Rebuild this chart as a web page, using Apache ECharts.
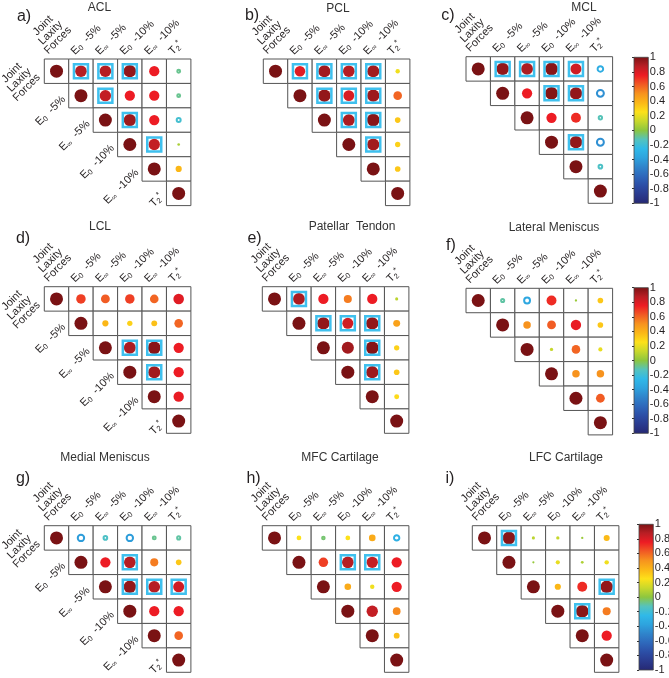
<!DOCTYPE html>
<html><head><meta charset="utf-8">
<script src="https://cdn.jsdelivr.net/npm/echarts@6/dist/echarts.min.js"></script>
<style>html,body{margin:0;padding:0;background:#fff}#chart{width:669px;height:678px}</style>
</head><body><div id="chart"></div>
<script>
// ---------- data ----------
const varLabels = ['Joint\nLaxity\nForces', '{t|E}{s|0}  -5%', '{t|E}{s|∞}  -5%', '{t|E}{s|0}  -10%', '{t|E}{s|∞}  -10%', '{t|T}{s|2}{p|*}'];
const categories = ['0', '1', '2', '3', '4', '5'];
const panelTitles = ['ACL', 'PCL', 'MCL', 'LCL', 'Patellar  Tendon', 'Lateral Meniscus', 'Medial Meniscus', 'MFC Cartilage', 'LFC Cartilage'];
const panelLetters = ['a)', 'b)', 'c)', 'd)', 'e)', 'f)', 'g)', 'h)', 'i)'];

// upper-triangle rows, each row starts at the diagonal
const aclCorr = [[1, 0.88, 0.88, 0.95, 0.75, -0.08], [1, 0.85, 0.75, 0.75, -0.08], [1, 0.93, 0.75, -0.18], [1, 0.85, 0.06], [1, 0.38], [1]];
const aclSig = [[0, 1], [0, 2], [0, 3], [1, 2], [2, 3], [3, 4]];
const pclCorr = [[1, 0.78, 0.92, 0.88, 0.92, 0.22], [1, 0.95, 0.8, 0.93, 0.6], [1, 0.9, 0.97, 0.33], [1, 0.92, 0.3], [1, 0.33], [1]];
const pclSig = [[0, 1], [0, 2], [0, 3], [0, 4], [1, 2], [1, 3], [1, 4], [2, 3], [2, 4], [3, 4]];
const mclCorr = [[1, 0.95, 0.9, 0.97, 0.82, -0.32], [1, 0.75, 0.98, 0.95, -0.45], [1, 0.75, 0.72, -0.12], [1, 0.95, -0.45], [1, -0.15], [1]];
const mclSig = [[0, 1], [0, 2], [0, 3], [0, 4], [1, 3], [1, 4], [3, 4]];
const lclCorr = [[1, 0.68, 0.62, 0.68, 0.6, 0.78], [1, 0.38, 0.3, 0.35, 0.6], [1, 0.9, 0.97, 0.75], [1, 0.92, 0.75], [1, 0.76], [1]];
const lclSig = [[2, 3], [2, 4], [3, 4]];
const ptCorr = [[1, 0.9, 0.75, 0.55, 0.75, 0.1], [1, 0.95, 0.82, 0.95, 0.45], [1, 0.92, 0.98, 0.3], [1, 0.93, 0.33], [1, 0.27], [1]];
const ptSig = [[0, 1], [1, 2], [1, 3], [1, 4], [2, 4], [3, 4]];
const lmCorr = [[1, -0.1, -0.35, 0.72, 0.03, 0.33], [1, 0.5, 0.62, 0.76, 0.33], [1, 0.12, 0.6, 0.2], [1, 0.5, 0.5], [1, 0.62], [1]];
const lmSig = [];
const mmCorr = [[1, -0.4, -0.15, -0.4, -0.08, -0.1], [1, 0.75, 0.88, 0.55, 0.33], [1, 0.95, 0.88, 0.82], [1, 0.75, 0.75], [1, 0.6], [1]];
const mmSig = [[1, 3], [2, 3], [2, 4], [2, 5]];
const mfcCorr = [[1, 0.25, -0.05, 0.25, 0.42, -0.3], [1, 0.68, 0.88, 0.85, 0.75], [1, 0.42, 0.22, 0.75], [1, 0.85, 0.52], [1, 0.35], [1]];
const mfcSig = [[1, 3], [1, 4]];
const lfcCorr = [[1, 0.97, 0.1, 0.12, 0.03, 0.37], [1, 0.02, 0.2, 0.07, 0.22], [1, 0.38, 0.72, 0.95], [1, 0.97, 0.55], [1, 0.75], [1]];
const lfcSig = [[0, 1], [2, 5], [3, 4]];

const corrs = [aclCorr, pclCorr, mclCorr, lclCorr, ptCorr, lmCorr, mmCorr, mfcCorr, lfcCorr];
const sigs = [aclSig, pclSig, mclSig, lclSig, ptSig, lmSig, mmSig, mfcSig, lfcSig];

// ---------- style / layout ----------
const FONT = '"Liberation Sans", Arial, Helvetica, sans-serif';
const TXT = '#231f20';
const SIDE = 146.6;
const layout = [
  {left: 44.3, top: 59}, {left: 263.3, top: 59}, {left: 466, top: 56.7},
  {left: 44.3, top: 286.7}, {left: 262.3, top: 286.7}, {left: 466, top: 288.3},
  {left: 44.3, top: 525.7}, {left: 262.3, top: 525.7}, {left: 472.3, top: 525.7}
];
const rowLabelPanels = [0, 3, 6];
const titlePos = [[99.5, 7.5], [338, 8.5], [584, 7.5], [100, 227], [352, 227], [554, 228], [105, 458], [340, 458], [566, 458]];
const letterPos = [[24, 16.5], [252, 15.5], [448, 16], [23, 239], [254.5, 239], [451, 246], [23, 478.5], [253.5, 479], [450, 478.5]];
const colorbars = [{left: 634, top: 57.3, height: 146, panels: [0, 1, 2]}, {left: 634, top: 287.7, height: 145.6, panels: [3, 4, 5]}, {left: 639, top: 524.3, height: 145.7, panels: [6, 7, 8]}];
const CBW = 14.3;
const jet = ['#262873', '#2a3a8e', '#2c4ea6', '#2e68bb', '#2f84cb', '#2ea3de', '#30b9e8', '#55c3bd', '#8dc63f', '#c8d82c', '#fde11a', '#fbb817', '#f7931e', '#f15a24', '#ed1c24', '#b81e24', '#7a1214'];

const rich = {
  t: {fontSize: 11, fontFamily: FONT, fill: TXT, lineHeight: 13},
  s: {fontSize: 7.5, fontFamily: FONT, fill: TXT, lineHeight: 6, verticalAlign: 'bottom'},
  p: {fontSize: 8, fontFamily: FONT, fill: TXT, lineHeight: 9, verticalAlign: 'top'}
};
const baseText = {fontSize: 11, fontFamily: FONT, fill: TXT, rich: rich};

const grid = [], xAxis = [], yAxis = [], series = [], graphic = [];
const circleSeriesOfPanel = [];

layout.forEach((L, k) => {
  grid.push({left: L.left, top: L.top, width: SIDE, height: SIDE, outerBoundsMode: 'none'});
  xAxis.push({gridIndex: k, type: 'category', data: categories, show: false});
  yAxis.push({gridIndex: k, type: 'category', data: categories, inverse: true, show: false});
  const M = corrs[k];
  const cells = [], circles = [];
  for (let i = 0; i < 6; i++) {
    for (let j = i; j < 6; j++) {
      cells.push([j, i]);
      const v = M[i][j - i];
      circles.push(v < 0 ? {value: [j, i, v], symbol: 'emptyCircle', itemStyle: {borderWidth: 2}} : {value: [j, i, v], symbol: 'circle'});
    }
  }
  // cell boxes
  series.push({
    type: 'custom', xAxisIndex: k, yAxisIndex: k, silent: true, z: 1, data: cells,
    renderItem: function (params, api) {
      const p = api.coord([api.value(0), api.value(1)]);
      const s = api.size([1, 1]);
      return {type: 'rect', shape: {x: p[0] - s[0] / 2, y: p[1] - s[1] / 2, width: s[0], height: s[1]},
        style: {fill: '#fff', stroke: '#555', lineWidth: 1}};
    }
  });
  // correlation circles
  circleSeriesOfPanel[k] = series.length;
  series.push({
    type: 'scatter', xAxisIndex: k, yAxisIndex: k, silent: true, z: 3, data: circles,
    itemStyle: {opacity: 1},
    symbolSize: function (val) { return 2 + 11 * Math.abs(val[2]); }
  });
  // significance squares
  series.push({
    type: 'scatter', xAxisIndex: k, yAxisIndex: k, silent: true, z: 4,
    data: sigs[k].map(rc => [rc[1], rc[0]]), symbol: 'rect', symbolSize: 14,
    itemStyle: {color: 'rgba(0,0,0,0)', borderColor: '#3fc0ee', borderWidth: 2.5, opacity: 1}
  });
  // column labels
  series.push({
    type: 'custom', xAxisIndex: k, yAxisIndex: k, silent: true, z: 5, data: [0, 1, 2, 3, 4, 5].map(j => [j, 0]),
    renderItem: function (params, api) {
      const j = api.value(0);
      const p = api.coord([j, 0]);
      const s = api.size([1, 1]);
      const top = p[1] - s[1] / 2;
      if (j === 0) {
        return {type: 'text', x: p[0] - 6, y: top - 26, rotation: Math.PI / 4,
          style: Object.assign({}, baseText, {text: varLabels[0], align: 'center', verticalAlign: 'middle', lineHeight: 10.5})};
      }
      return {type: 'text', x: p[0] - 8, y: top - 6, rotation: Math.PI / 4,
        style: Object.assign({}, baseText, {text: varLabels[j], align: 'left', verticalAlign: 'middle'})};
    }
  });
  if (rowLabelPanels.indexOf(k) >= 0) {
    series.push({
      type: 'custom', xAxisIndex: k, yAxisIndex: k, silent: true, z: 5, data: [0, 1, 2, 3, 4, 5].map(i => [i, i]),
      renderItem: function (params, api) {
        const i = api.value(0);
        const p = api.coord([i, i]);
        const s = api.size([1, 1]);
        const left = p[0] - s[0] / 2;
        if (i === 0) {
          return {type: 'text', x: left - 25, y: p[1] + 9, rotation: Math.PI / 4,
            style: Object.assign({}, baseText, {text: varLabels[0], align: 'center', verticalAlign: 'middle', lineHeight: 10.5})};
        }
        return {type: 'text', x: left - 5, y: p[1] + 2, rotation: Math.PI / 4,
          style: Object.assign({}, baseText, {text: varLabels[i], align: 'right', verticalAlign: 'middle'})};
      }
    });
  }
  graphic.push({type: 'text', x: titlePos[k][0], y: titlePos[k][1], silent: true,
    style: {text: panelTitles[k], fontSize: 12, fontFamily: FONT, fill: '#333', align: 'center', verticalAlign: 'middle', textAlign: 'center', textVerticalAlign: 'middle'}});
  graphic.push({type: 'text', x: letterPos[k][0], y: letterPos[k][1], silent: true,
    style: {text: panelLetters[k], fontSize: 16, fontFamily: FONT, fill: TXT, align: 'center', verticalAlign: 'middle', textAlign: 'center', textVerticalAlign: 'middle'}});
});

// colorbars: gradient-filled grid + value axis for the tick labels; hidden visualMaps colour the circles
const barGradientStops = jet.slice().reverse().map((c, idx) => ({offset: idx / (jet.length - 1), color: c}));
const visualMap = [];
colorbars.forEach((cb, n) => {
  const gi = grid.length;
  grid.push({left: cb.left, top: cb.top, width: CBW, height: cb.height, show: true, borderColor: '#444', borderWidth: 0.8,
    outerBoundsMode: 'none', containLabel: false,
    backgroundColor: new echarts.graphic.LinearGradient(0, 0, 0, 1, barGradientStops)});
  xAxis.push({gridIndex: gi, type: 'value', show: false, min: 0, max: 1});
  yAxis.push({gridIndex: gi, type: 'value', min: -1, max: 1, interval: 0.2, position: 'right',
    axisLine: {show: false}, splitLine: {show: false},
    axisTick: {show: true, inside: true, length: 2, lineStyle: {color: '#333', width: 1}},
    axisLabel: {margin: 1.5, fontSize: 11, fontFamily: FONT, color: TXT,
      formatter: v => String(Math.round(v * 10) / 10)}});
  visualMap.push({type: 'continuous', show: false, min: -1, max: 1, dimension: 2,
    seriesIndex: cb.panels.map(p => circleSeriesOfPanel[p]), inRange: {color: jet}});
});

const chart = echarts.init(document.getElementById('chart'), null, {renderer: 'canvas'});
chart.setOption({animation: false, backgroundColor: '#fff', grid, xAxis, yAxis, series, visualMap, graphic});
</script></body></html>
